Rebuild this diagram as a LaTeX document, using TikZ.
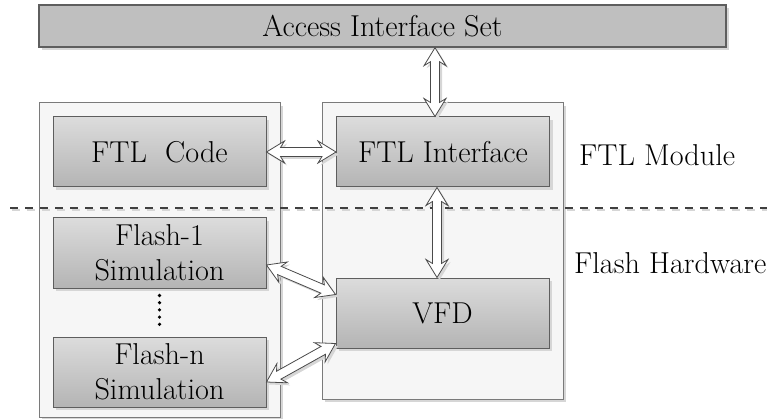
\documentclass[tikz,border=0pt]{standalone}
\usetikzlibrary{calc,shadows}

\definecolor{boxline}{HTML}{5E5E5E}
\definecolor{flatfill}{HTML}{BFBFBF}
\definecolor{gradtop}{HTML}{DCDCDC}
\definecolor{gradbot}{HTML}{B4B4B4}
\definecolor{panelline}{HTML}{7A7A7A}
\definecolor{panelfill}{HTML}{F6F6F6}
\definecolor{arrowline}{HTML}{4A4A4A}
\definecolor{shade}{HTML}{D6D6D6}
\definecolor{divline}{HTML}{404040}

\newcommand\lblfont{\rmfamily\fontsize{30.2}{35}\selectfont}

% double-headed hollow block arrow between two named points
\newcommand\dblarrow[2]{%
  \path let \p1=(#1), \p2=(#2) in \pgfextra{%
    \pgfmathsetmacro\arrang{atan2(\y2-\y1,\x2-\x1)}%
    \pgfmathsetmacro\arrlen{veclen(\x2-\x1,\y2-\y1)}%
    \xdef\arrangG{\arrang}\xdef\arrlenG{\arrlen}%
    \xdef\arrxG{\x1}\xdef\arryG{\y1}};
  \foreach \dx/\dy/\sty in {2.5pt/-2.5pt/arrowshadow, 0pt/0pt/arrowbody}{
    \begin{scope}[shift={(\arrxG+\dx,\arryG+\dy)}, rotate=\arrangG]
      \path[\sty] (0pt,0pt) -- (18pt,11pt) -- (14pt,4.5pt)
        -- (\arrlenG pt-14pt,4.5pt) -- (\arrlenG pt-18pt,11pt)
        -- (\arrlenG pt,0pt)
        -- (\arrlenG pt-18pt,-11pt) -- (\arrlenG pt-14pt,-4.5pt)
        -- (14pt,-4.5pt) -- (18pt,-11pt) -- cycle;
    \end{scope}
  }%
}

\tikzset{
  shadowed/.style={drop shadow={shadow xshift=3pt, shadow yshift=-3pt,
      fill=shade, opacity=1}},
  panel/.style={draw=panelline, fill=panelfill, line width=1pt,
      minimum width=241pt, inner sep=0pt, shadowed},
  block/.style={draw=boxline, line width=1pt, top color=gradtop,
      bottom color=gradbot, minimum width=213pt, minimum height=70pt,
      inner sep=0pt, align=center, font=\lblfont, shadowed},
  topbar/.style={draw=boxline, line width=1.4pt, fill=flatfill,
      minimum width=687pt, minimum height=42pt, inner sep=0pt,
      font=\lblfont, shadowed},
  arrowbody/.style={draw=arrowline, fill=white, line width=0.8pt,
      line join=miter},
  arrowshadow/.style={fill=shade},
  divider/.style={draw=divline, line width=2pt, dash pattern=on 8pt off 7pt},
  dividershadow/.style={draw=shade, line width=2pt, dash pattern=on 8pt off 7pt},
  dots/.style={draw=black, line width=3.6pt, line cap=round,
      dash pattern=on 0pt off 7.2pt},
  sidelabel/.style={anchor=west, inner sep=0pt, font=\lblfont},
}

\begin{document}
\begin{tikzpicture}[x=1pt, y=-1pt]
  \useasboundingbox (0,0) rectangle (767,419);

  % top-level interface bar
  \node[topbar] (ais) at (382.5,26) {Access Interface Set};

  % the two containers
  \node[panel, minimum height=314pt] (leftpanel) at (159.5,260) {};
  \node[panel, minimum height=296pt] (rightpanel) at (442.5,251) {};

  % blocks
  \node[block] (code) at (159.5,152) {FTL\ \ Code};
  \node[block] (fi) at (443,152) {FTL Interface};
  \node[block] (f1) at (159.5,253) {Flash-1\\Simulation};
  \node[block] (fn) at (159.5,372) {Flash-n\\Simulation};
  \node[block] (vfd) at (442.5,313) {VFD};

  % layer divider
  \coordinate (dl) at (10,208);
  \coordinate (dr) at (770,208);
  \draw[dividershadow] ($(dl)+(1.5,2.5)$) -- ($(dr)+(1.5,2.5)$);
  \draw[divider] (dl) -- (dr);

  % ellipsis between flash simulations
  \coordinate (dtop) at ($(f1.south)+(0,7)$);
  \coordinate (dbot) at ($(fn.north)+(0,-5.5)$);
  \draw[dots] (dtop) -- (dbot);

  % layer labels
  \node[sidelabel] (ftlmod) at (579,155) {FTL Module};
  \node[sidelabel] (flashhw) at (574,263) {Flash Hardware};

  % connectors
  \coordinate (upB) at ($(fi.north)+(-8,0)$);
  \coordinate (upA) at (upB |- ais.south);
  \dblarrow{upA}{upB}

  \dblarrow{code.east}{fi.west}

  \coordinate (dnA) at ($(fi.south)+(-6,0)$);
  \coordinate (dnB) at (dnA |- vfd.north);
  \dblarrow{dnA}{dnB}

  \coordinate (s1) at ($(f1.east)+(0,12)$);
  \coordinate (v1) at ($(vfd.north west)+(0,17)$);
  \dblarrow{s1}{v1}

  \coordinate (sn) at ($(fn.east)+(0,10)$);
  \coordinate (vn) at ($(vfd.south west)+(0,-5)$);
  \dblarrow{sn}{vn}
\end{tikzpicture}
\end{document}
